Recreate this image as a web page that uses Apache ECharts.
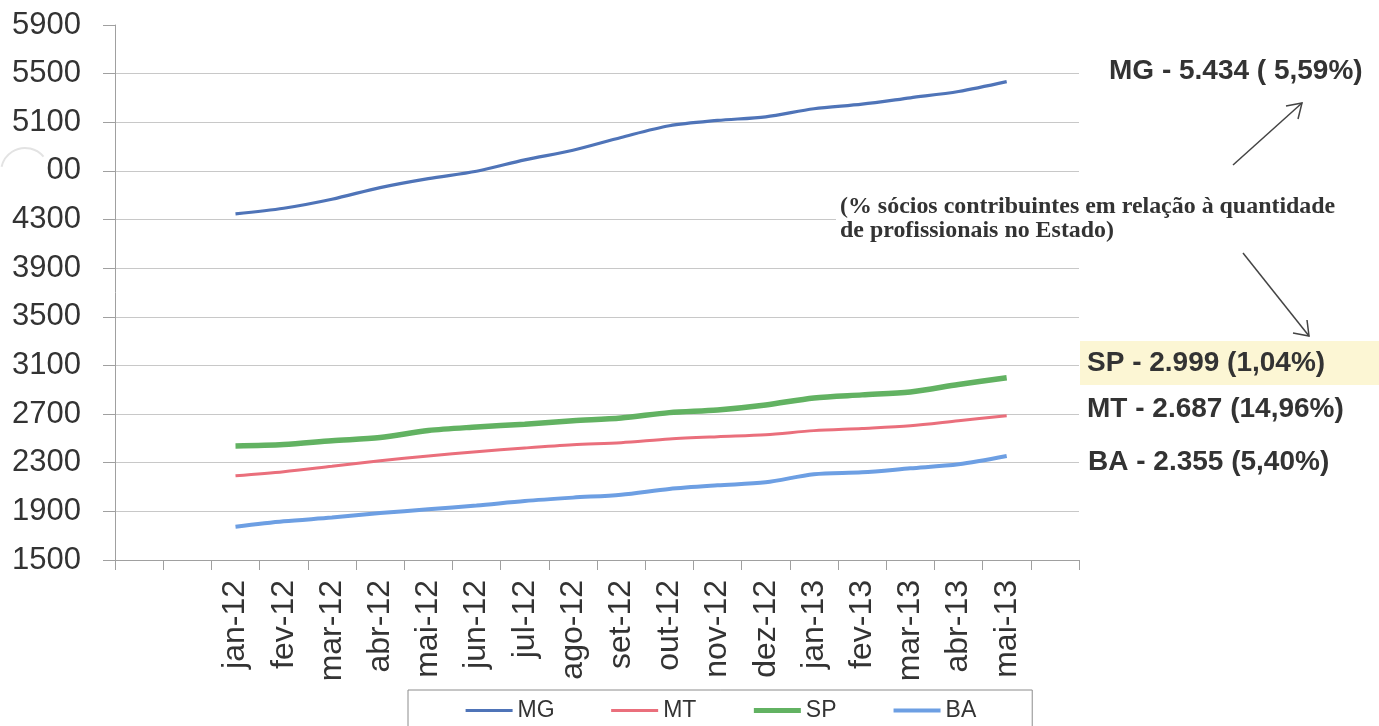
<!DOCTYPE html>
<html>
<head>
<meta charset="utf-8">
<script src="https://cdn.jsdelivr.net/npm/echarts@6/dist/echarts.min.js"></script>
<style>
html,body{margin:0;padding:0;background:#fff;}
#chart{width:1379px;height:726px;}
</style>
</head>
<body>
<div id="chart"></div>
<script>
// categories (two empty slots before, one after, as in the original chart)
const categories = ['', '', 'jan-12','fev-12','mar-12','abr-12','mai-12','jun-12','jul-12','ago-12','set-12','out-12','nov-12','dez-12','jan-13','fev-13','mar-13','abr-13','mai-13',''];
const leadingEmpty = 2;
const trailingEmpty = 1;

const seriesNames = ['MG','MT','SP','BA'];
const mgValues = [4347,4393,4467,4563,4637,4697,4791,4870,4975,5071,5115,5145,5211,5249,5301,5353,5434];
const mtValues = [2192,2226,2271,2316,2356,2390,2421,2448,2465,2495,2514,2530,2564,2582,2604,2646,2687];
const spValues = [2438,2450,2481,2507,2565,2594,2617,2645,2668,2712,2734,2775,2833,2858,2882,2943,2999];
const baValues = [1773,1818,1849,1886,1917,1948,1985,2013,2037,2084,2114,2139,2205,2221,2254,2287,2355];

const yTickLabels = ['1500','1900','2300','2700','3100','3500','3900','4300','00','5100','5500','5900'];

const annotationMG = 'MG - 5.434 ( 5,59%)';
const annotationSP = 'SP - 2.999 (1,04%)';
const annotationMT = 'MT - 2.687 (14,96%)';
const annotationBA = 'BA - 2.355 (5,40%)';
const noteLine1 = '(% sócios contribuintes em relação à quantidade';
const noteLine2 = 'de profissionais no Estado)';

function pad(vals){
  const out = [];
  for (let i=0;i<leadingEmpty;i++) out.push(null);
  vals.forEach(v=>out.push(v));
  for (let i=0;i<trailingEmpty;i++) out.push(null);
  return out;
}

const colors = {MG:'#4f74b8', MT:'#ea6f7c', SP:'#62b262', BA:'#6d9fe3'};
const widths = {MG:3.2, MT:3, SP:5.5, BA:4};
const valuesByName = {MG:mgValues, MT:mtValues, SP:spValues, BA:baValues};

const chart = echarts.init(document.getElementById('chart'));
const sans = '"Liberation Sans", Arial, sans-serif';
const serif = '"Liberation Serif", "Times New Roman", serif';

chart.setOption({
  backgroundColor:'#ffffff',
  animation:false,
  grid:{left:115, right:300, top:25, bottom:166, containLabel:false},
  xAxis:{
    type:'category', data:categories, boundaryGap:true,
    axisLine:{show:true, lineStyle:{color:'#a0a0a0', width:1}},
    axisTick:{show:true, length:10, interval:0, lineStyle:{color:'#a0a0a0'}},
    axisLabel:{interval:0, rotate:90, margin:20, fontSize:32, color:'#333', fontFamily:sans},
    splitLine:{show:false}
  },
  yAxis:{
    type:'value', min:1500, max:5900, interval:400,
    axisLine:{show:true, lineStyle:{color:'#a0a0a0', width:1}},
    axisTick:{show:true, length:12, lineStyle:{color:'#a0a0a0'}},
    axisLabel:{margin:34, fontSize:31, color:'#333', fontFamily:sans,
      formatter:function(v){ return yTickLabels[Math.round((v-1500)/400)]; }},
    splitLine:{show:true, showMaxLine:false, lineStyle:{color:'#c8c8c8', width:1}}
  },
  legend:{
    data:seriesNames.map(n=>({name:n, lineStyle:{color:colors[n], width:Math.min(widths[n],5)}})),
    left:408, top:690, orient:'horizontal',
    itemWidth:47, itemHeight:3, itemGap:55,
    padding:[9,56,20,56],
    borderColor:'#8c8c8c', borderWidth:1, backgroundColor:'#fff',
    textStyle:{fontSize:23, color:'#333', fontFamily:sans}
  },
  series: seriesNames.map(n=>({
    name:n, type:'line', data:pad(valuesByName[n]),
    symbol:'none', showSymbol:false, smooth:0.3,
    lineStyle:{color:colors[n], width:widths[n]},
    itemStyle:{color:colors[n]},
    connectNulls:false
  })),
  graphic:[
    {type:'arc', shape:{cx:25, cy:172, r:24, startAngle:Math.PI*1.07, endAngle:Math.PI*1.78},
      style:{stroke:'#e3e3e3', lineWidth:2, fill:null}, z:1},
    {type:'rect', shape:{x:836, y:194, width:520, height:54}, style:{fill:'#ffffff'}, z:50},
    {type:'text', x:840, y:207, scaleX:1.04, z:51,
      style:{text:noteLine1, fontSize:23, fontWeight:'bold', fontFamily:serif, fill:'#333', verticalAlign:'middle', align:'left'}},
    {type:'text', x:840, y:231, scaleX:1.04, z:51,
      style:{text:noteLine2, fontSize:23, fontWeight:'bold', fontFamily:serif, fill:'#333', verticalAlign:'middle', align:'left'}},
    {type:'rect', shape:{x:1080, y:341, width:299, height:44}, style:{fill:'#fcf6d4'}, z:40},
    {type:'text', x:1109, y:71, z:51,
      style:{text:annotationMG, fontSize:28, fontWeight:'bold', fontFamily:sans, fill:'#333', verticalAlign:'middle'}},
    {type:'text', x:1087, y:363, z:51,
      style:{text:annotationSP, fontSize:28, fontWeight:'bold', fontFamily:sans, fill:'#333', verticalAlign:'middle'}},
    {type:'text', x:1087, y:409, z:51,
      style:{text:annotationMT, fontSize:28, fontWeight:'bold', fontFamily:sans, fill:'#333', verticalAlign:'middle'}},
    {type:'text', x:1088, y:462, z:51,
      style:{text:annotationBA, fontSize:28, fontWeight:'bold', fontFamily:sans, fill:'#333', verticalAlign:'middle'}},
    {type:'line', shape:{x1:1233, y1:165, x2:1302, y2:103}, style:{stroke:'#444', lineWidth:1.5}, z:51},
    {type:'polyline', shape:{points:[[1286,106],[1302,103],[1298,119]]}, style:{stroke:'#444', lineWidth:1.5, fill:null}, z:51},
    {type:'line', shape:{x1:1243, y1:253, x2:1309, y2:336}, style:{stroke:'#444', lineWidth:1.5}, z:51},
    {type:'polyline', shape:{points:[[1293,333],[1309,336],[1307,320]]}, style:{stroke:'#444', lineWidth:1.5, fill:null}, z:51}
  ]
});
</script>
</body>
</html>
